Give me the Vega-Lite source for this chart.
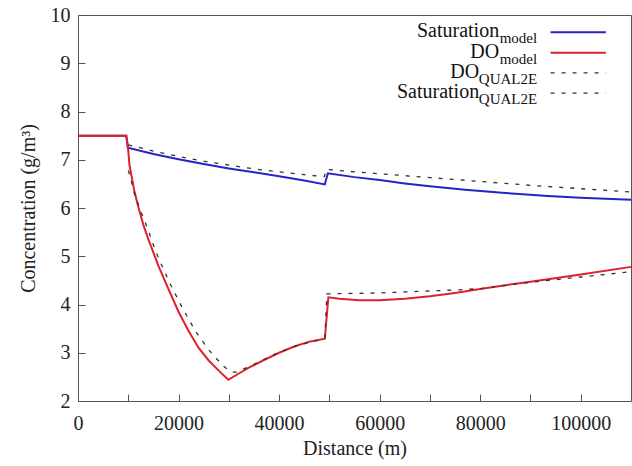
{
  "$schema": "https://vega.github.io/schema/vega-lite/v6.json",
  "width": 553,
  "height": 386,
  "autosize": "none",
  "padding": {"left": 78, "top": 15, "right": 1, "bottom": 65},
  "background": "white",
  "config": {
    "view": {"stroke": "#555", "strokeWidth": 1},
    "axis": {"labelFont": "Times New Roman", "titleFont": "Times New Roman"}
  },
  "datasets": {
    "lines": [
      {"series": "Saturation model", "distance": 0, "conc": 7.5},
      {"series": "Saturation model", "distance": 9600, "conc": 7.5},
      {"series": "Saturation model", "distance": 9900, "conc": 7.25},
      {"series": "Saturation model", "distance": 15000, "conc": 7.12},
      {"series": "Saturation model", "distance": 20000, "conc": 7.01},
      {"series": "Saturation model", "distance": 25000, "conc": 6.91},
      {"series": "Saturation model", "distance": 30000, "conc": 6.82},
      {"series": "Saturation model", "distance": 35000, "conc": 6.74},
      {"series": "Saturation model", "distance": 40000, "conc": 6.66},
      {"series": "Saturation model", "distance": 45000, "conc": 6.57},
      {"series": "Saturation model", "distance": 49100, "conc": 6.49},
      {"series": "Saturation model", "distance": 49700, "conc": 6.72},
      {"series": "Saturation model", "distance": 55000, "conc": 6.64},
      {"series": "Saturation model", "distance": 60000, "conc": 6.58},
      {"series": "Saturation model", "distance": 65000, "conc": 6.51},
      {"series": "Saturation model", "distance": 70000, "conc": 6.45},
      {"series": "Saturation model", "distance": 77000, "conc": 6.38},
      {"series": "Saturation model", "distance": 85000, "conc": 6.31},
      {"series": "Saturation model", "distance": 93500, "conc": 6.25},
      {"series": "Saturation model", "distance": 100000, "conc": 6.21},
      {"series": "Saturation model", "distance": 110000, "conc": 6.17},

      {"series": "DO model", "distance": 0, "conc": 7.5},
      {"series": "DO model", "distance": 9600, "conc": 7.5},
      {"series": "DO model", "distance": 9900, "conc": 7.31},
      {"series": "DO model", "distance": 10240, "conc": 6.89},
      {"series": "DO model", "distance": 11230, "conc": 6.34},
      {"series": "DO model", "distance": 12000, "conc": 6.02},
      {"series": "DO model", "distance": 13000, "conc": 5.65},
      {"series": "DO model", "distance": 14000, "conc": 5.35},
      {"series": "DO model", "distance": 16000, "conc": 4.8},
      {"series": "DO model", "distance": 18000, "conc": 4.32},
      {"series": "DO model", "distance": 20000, "conc": 3.85},
      {"series": "DO model", "distance": 22000, "conc": 3.45},
      {"series": "DO model", "distance": 24000, "conc": 3.1},
      {"series": "DO model", "distance": 26000, "conc": 2.84},
      {"series": "DO model", "distance": 28000, "conc": 2.63},
      {"series": "DO model", "distance": 29900, "conc": 2.44},
      {"series": "DO model", "distance": 32000, "conc": 2.57},
      {"series": "DO model", "distance": 34000, "conc": 2.69},
      {"series": "DO model", "distance": 37000, "conc": 2.85},
      {"series": "DO model", "distance": 40000, "conc": 3.0},
      {"series": "DO model", "distance": 43000, "conc": 3.13},
      {"series": "DO model", "distance": 46000, "conc": 3.23},
      {"series": "DO model", "distance": 49100, "conc": 3.29},
      {"series": "DO model", "distance": 49800, "conc": 4.15},
      {"series": "DO model", "distance": 52000, "conc": 4.12},
      {"series": "DO model", "distance": 56000, "conc": 4.09},
      {"series": "DO model", "distance": 60000, "conc": 4.09},
      {"series": "DO model", "distance": 65000, "conc": 4.12},
      {"series": "DO model", "distance": 70000, "conc": 4.17},
      {"series": "DO model", "distance": 75000, "conc": 4.24},
      {"series": "DO model", "distance": 80000, "conc": 4.32},
      {"series": "DO model", "distance": 85000, "conc": 4.4},
      {"series": "DO model", "distance": 90000, "conc": 4.47},
      {"series": "DO model", "distance": 100000, "conc": 4.62},
      {"series": "DO model", "distance": 110000, "conc": 4.78},

      {"series": "DO QUAL2E", "distance": 10000, "conc": 6.78},
      {"series": "DO QUAL2E", "distance": 10240, "conc": 6.7},
      {"series": "DO QUAL2E", "distance": 11230, "conc": 6.3},
      {"series": "DO QUAL2E", "distance": 12230, "conc": 6.0},
      {"series": "DO QUAL2E", "distance": 13220, "conc": 5.74},
      {"series": "DO QUAL2E", "distance": 14210, "conc": 5.47},
      {"series": "DO QUAL2E", "distance": 15200, "conc": 5.17},
      {"series": "DO QUAL2E", "distance": 16200, "conc": 4.92},
      {"series": "DO QUAL2E", "distance": 18170, "conc": 4.46},
      {"series": "DO QUAL2E", "distance": 20800, "conc": 3.92},
      {"series": "DO QUAL2E", "distance": 23460, "conc": 3.43},
      {"series": "DO QUAL2E", "distance": 26090, "conc": 3.05},
      {"series": "DO QUAL2E", "distance": 28730, "conc": 2.74},
      {"series": "DO QUAL2E", "distance": 30500, "conc": 2.6},
      {"series": "DO QUAL2E", "distance": 31500, "conc": 2.6},
      {"series": "DO QUAL2E", "distance": 34000, "conc": 2.71},
      {"series": "DO QUAL2E", "distance": 37000, "conc": 2.86},
      {"series": "DO QUAL2E", "distance": 40000, "conc": 3.01},
      {"series": "DO QUAL2E", "distance": 44000, "conc": 3.16},
      {"series": "DO QUAL2E", "distance": 47000, "conc": 3.24},
      {"series": "DO QUAL2E", "distance": 49100, "conc": 3.29},
      {"series": "DO QUAL2E", "distance": 49500, "conc": 4.22},
      {"series": "DO QUAL2E", "distance": 55000, "conc": 4.23},
      {"series": "DO QUAL2E", "distance": 60000, "conc": 4.24},
      {"series": "DO QUAL2E", "distance": 65000, "conc": 4.26},
      {"series": "DO QUAL2E", "distance": 70000, "conc": 4.28},
      {"series": "DO QUAL2E", "distance": 77000, "conc": 4.31},
      {"series": "DO QUAL2E", "distance": 80000, "conc": 4.33},
      {"series": "DO QUAL2E", "distance": 90000, "conc": 4.46},
      {"series": "DO QUAL2E", "distance": 100000, "conc": 4.57},
      {"series": "DO QUAL2E", "distance": 110000, "conc": 4.68},

      {"series": "Saturation QUAL2E", "distance": 10000, "conc": 7.31},
      {"series": "Saturation QUAL2E", "distance": 15000, "conc": 7.18},
      {"series": "Saturation QUAL2E", "distance": 20000, "conc": 7.07},
      {"series": "Saturation QUAL2E", "distance": 25000, "conc": 6.97},
      {"series": "Saturation QUAL2E", "distance": 30000, "conc": 6.89},
      {"series": "Saturation QUAL2E", "distance": 35000, "conc": 6.81},
      {"series": "Saturation QUAL2E", "distance": 40000, "conc": 6.75},
      {"series": "Saturation QUAL2E", "distance": 45000, "conc": 6.69},
      {"series": "Saturation QUAL2E", "distance": 49000, "conc": 6.65},
      {"series": "Saturation QUAL2E", "distance": 49400, "conc": 6.8},
      {"series": "Saturation QUAL2E", "distance": 55000, "conc": 6.75},
      {"series": "Saturation QUAL2E", "distance": 60000, "conc": 6.71},
      {"series": "Saturation QUAL2E", "distance": 70000, "conc": 6.63},
      {"series": "Saturation QUAL2E", "distance": 80000, "conc": 6.55},
      {"series": "Saturation QUAL2E", "distance": 90000, "conc": 6.47},
      {"series": "Saturation QUAL2E", "distance": 100000, "conc": 6.4},
      {"series": "Saturation QUAL2E", "distance": 110000, "conc": 6.33}
    ],
    "legend": [
      {"key": "Saturation model", "main": "Saturation", "sub": "model"},
      {"key": "DO model", "main": "DO", "sub": "model"},
      {"key": "DO QUAL2E", "main": "DO", "sub": "QUAL2E"},
      {"key": "Saturation QUAL2E", "main": "Saturation", "sub": "QUAL2E"}
    ]
  },
  "layer": [
    {
      "data": {"name": "lines"},
      "transform": [{"filter": "datum.series === 'Saturation model'"}],
      "mark": {"type": "line", "color": "#2424c8", "strokeWidth": 2},
      "encoding": {
        "x": {
          "field": "distance", "type": "quantitative",
          "scale": {"domain": [0, 110000], "nice": false, "zero": false},
          "axis": {
            "orient": "bottom",
            "values": [0, 10000, 20000, 30000, 40000, 50000, 60000, 70000, 80000, 90000, 100000],
            "format": "d",
            "labelExpr": "datum.value % 20000 === 0 ? datum.label : ''",
            "domain": false, "grid": false,
            "tickSize": -7, "tickColor": "#555", "tickWidth": 1,
            "labelFlush": false, "labelOverlap": false,
            "labelFont": "Times New Roman", "labelFontSize": 20, "labelColor": "#222",
            "labelPadding": 19,
            "title": "Distance (m)",
            "titleFont": "Times New Roman", "titleFontSize": 20, "titleFontWeight": "normal", "titleColor": "#222",
            "titlePadding": 5
          }
        },
        "y": {
          "field": "conc", "type": "quantitative",
          "scale": {"domain": [2, 10], "nice": false, "zero": false},
          "axis": {
            "orient": "left",
            "values": [2, 3, 4, 5, 6, 7, 8, 9, 10],
            "domain": false, "grid": false,
            "tickSize": -7, "tickColor": "#555", "tickWidth": 1,
            "labelFlush": false, "labelOverlap": false,
            "labelFont": "Times New Roman", "labelFontSize": 20, "labelColor": "#222",
            "labelPadding": 15,
            "title": "Concentration (g/m³)",
            "titleFont": "Times New Roman", "titleFontSize": 20, "titleFontWeight": "normal", "titleColor": "#222",
            "titlePadding": 12
          }
        }
      }
    },
    {
      "data": {"name": "lines"},
      "transform": [{"filter": "datum.series === 'DO model'"}],
      "mark": {"type": "line", "color": "#e0202a", "strokeWidth": 2},
      "encoding": {
        "x": {"field": "distance", "type": "quantitative"},
        "y": {"field": "conc", "type": "quantitative"}
      }
    },
    {
      "data": {"name": "lines"},
      "transform": [{"filter": "datum.series === 'DO QUAL2E'"}],
      "mark": {"type": "line", "color": "#333333", "strokeWidth": 1.3, "strokeDash": [4, 7]},
      "encoding": {
        "x": {"field": "distance", "type": "quantitative"},
        "y": {"field": "conc", "type": "quantitative"}
      }
    },
    {
      "data": {"name": "lines"},
      "transform": [{"filter": "datum.series === 'Saturation QUAL2E'"}],
      "mark": {"type": "line", "color": "#333333", "strokeWidth": 1.3, "strokeDash": [4, 7]},
      "encoding": {
        "x": {"field": "distance", "type": "quantitative"},
        "y": {"field": "conc", "type": "quantitative"}
      }
    },
    {
      "data": {"name": "legend"},
      "transform": [{"filter": "datum.key === 'Saturation model'"}],
      "encoding": {"y": {"datum": 9.64, "type": "quantitative"}},
      "layer": [
        {
          "mark": {"type": "text", "align": "right", "baseline": "alphabetic", "font": "Times New Roman", "fontSize": 20, "color": "#111", "dx": -38, "dy": 5},
          "encoding": {"x": {"datum": 91340, "type": "quantitative"}, "text": {"field": "main"}}
        },
        {
          "mark": {"type": "text", "align": "right", "baseline": "alphabetic", "font": "Times New Roman", "fontSize": 15, "color": "#111", "dy": 11},
          "encoding": {"x": {"datum": 91340, "type": "quantitative"}, "text": {"field": "sub"}}
        },
        {
          "mark": {"type": "rule", "color": "#2424c8", "strokeWidth": 2},
          "encoding": {"x": {"datum": 94000, "type": "quantitative"}, "x2": {"datum": 105000}}
        }
      ]
    },
    {
      "data": {"name": "legend"},
      "transform": [{"filter": "datum.key === 'DO model'"}],
      "encoding": {"y": {"datum": 9.22, "type": "quantitative"}},
      "layer": [
        {
          "mark": {"type": "text", "align": "right", "baseline": "alphabetic", "font": "Times New Roman", "fontSize": 20, "color": "#111", "dx": -38, "dy": 5},
          "encoding": {"x": {"datum": 91340, "type": "quantitative"}, "text": {"field": "main"}}
        },
        {
          "mark": {"type": "text", "align": "right", "baseline": "alphabetic", "font": "Times New Roman", "fontSize": 15, "color": "#111", "dy": 11},
          "encoding": {"x": {"datum": 91340, "type": "quantitative"}, "text": {"field": "sub"}}
        },
        {
          "mark": {"type": "rule", "color": "#e0202a", "strokeWidth": 2},
          "encoding": {"x": {"datum": 94000, "type": "quantitative"}, "x2": {"datum": 105000}}
        }
      ]
    },
    {
      "data": {"name": "legend"},
      "transform": [{"filter": "datum.key === 'DO QUAL2E'"}],
      "encoding": {"y": {"datum": 8.8, "type": "quantitative"}},
      "layer": [
        {
          "mark": {"type": "text", "align": "right", "baseline": "alphabetic", "font": "Times New Roman", "fontSize": 20, "color": "#111", "dx": -58, "dy": 5},
          "encoding": {"x": {"datum": 91340, "type": "quantitative"}, "text": {"field": "main"}}
        },
        {
          "mark": {"type": "text", "align": "right", "baseline": "alphabetic", "font": "Times New Roman", "fontSize": 15, "color": "#111", "dy": 11},
          "encoding": {"x": {"datum": 91340, "type": "quantitative"}, "text": {"field": "sub"}}
        },
        {
          "mark": {"type": "rule", "color": "#333333", "strokeWidth": 1.3, "strokeDash": [4, 7]},
          "encoding": {"x": {"datum": 94000, "type": "quantitative"}, "x2": {"datum": 105000}}
        }
      ]
    },
    {
      "data": {"name": "legend"},
      "transform": [{"filter": "datum.key === 'Saturation QUAL2E'"}],
      "encoding": {"y": {"datum": 8.38, "type": "quantitative"}},
      "layer": [
        {
          "mark": {"type": "text", "align": "right", "baseline": "alphabetic", "font": "Times New Roman", "fontSize": 20, "color": "#111", "dx": -58, "dy": 5},
          "encoding": {"x": {"datum": 91340, "type": "quantitative"}, "text": {"field": "main"}}
        },
        {
          "mark": {"type": "text", "align": "right", "baseline": "alphabetic", "font": "Times New Roman", "fontSize": 15, "color": "#111", "dy": 11},
          "encoding": {"x": {"datum": 91340, "type": "quantitative"}, "text": {"field": "sub"}}
        },
        {
          "mark": {"type": "rule", "color": "#333333", "strokeWidth": 1.3, "strokeDash": [4, 7]},
          "encoding": {"x": {"datum": 94000, "type": "quantitative"}, "x2": {"datum": 105000}}
        }
      ]
    }
  ]
}
